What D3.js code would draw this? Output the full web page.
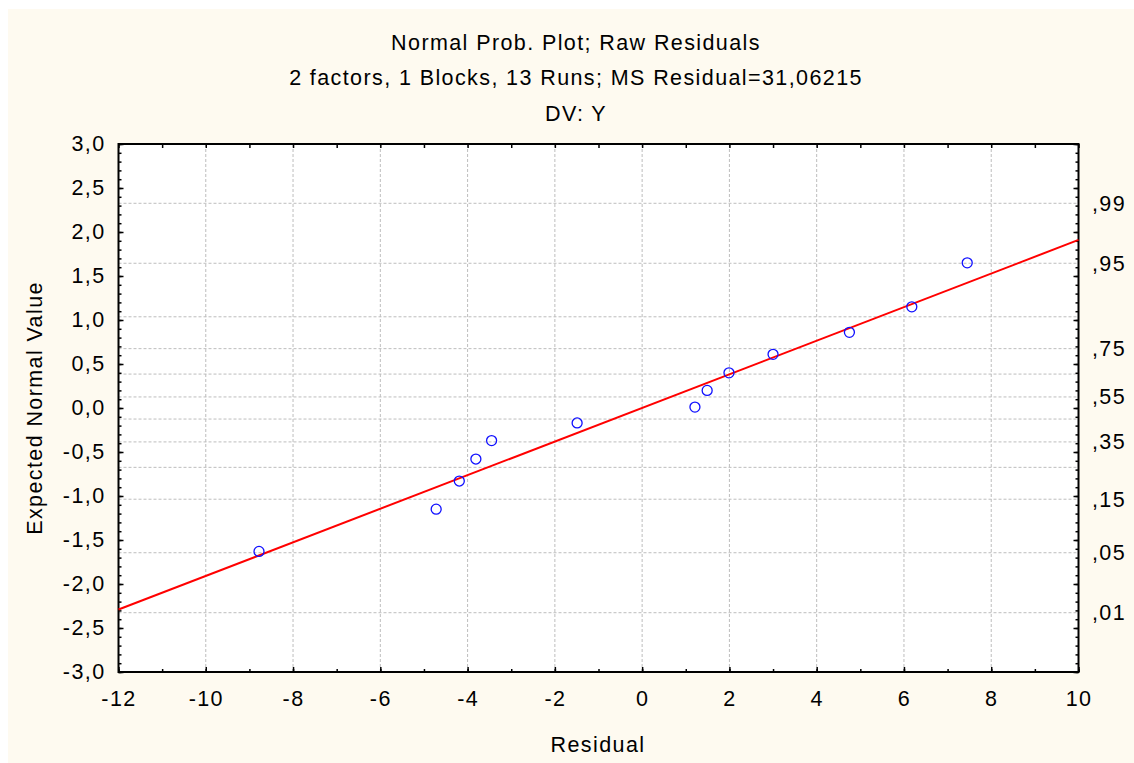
<!DOCTYPE html>
<html>
<head>
  <meta charset="utf-8">
  <title>Normal Prob. Plot; Raw Residuals</title>
  <script src="https://cdn.jsdelivr.net/npm/d3@7"></script>
  <style type="text/css">
    body { margin: 0; background: #fff; }
    svg { display: block; }
    text { font-family: "Liberation Sans", Arial, sans-serif; fill: #000; }
  </style>
</head>
<body>
<div id="chart"></div>
<script type="text/javascript">
  // data
  var residuals = [-8.78, -4.72, -4.19, -3.81, -3.45, -1.49, 1.21, 1.49, 1.99, 3.00, 4.75, 6.18, 7.45];
  var expected  = [-1.63, -1.15, -0.83, -0.58, -0.37, -0.17, 0.01, 0.20, 0.40, 0.61, 0.86, 1.15, 1.65];
  var fitX = [-12, 10];
  var fitY = [-2.29, 1.91];
  var xTicks = [-12, -10, -8, -6, -4, -2, 0, 2, 4, 6, 8, 10];
  var yTicks = [-3, -2.5, -2, -1.5, -1, -0.5, 0, 0.5, 1, 1.5, 2, 2.5, 3];
  var probLabels = [0.01, 0.05, 0.15, 0.35, 0.55, 0.75, 0.95, 0.99];
  var probGrid = [0.01, 0.05, 0.15, 0.25, 0.35, 0.45, 0.55, 0.65, 0.75, 0.85, 0.95, 0.99];
  var titles = ["Normal Prob. Plot; Raw Residuals",
                "2 factors, 1 Blocks, 13 Runs; MS Residual=31,06215",
                "DV: Y"];

  var W = 1134, H = 763;
  var L = 118.5, R = 1078.5, T = 144, B = 672;
  var FS = 21.5, LS = "1.4px";

  var loc = d3.formatLocale({decimal: ",", thousands: ".", grouping: [3], currency: ["", ""], minus: "-"});
  var f1 = loc.format(".1f");

  // inverse normal cdf (Acklam)
  function probit(p) {
    var a = [-39.69683028665376, 220.9460984245205, -275.9285104469687, 138.3577518672690, -30.66479806614716, 2.506628277459239];
    var b = [-54.47609879822406, 161.5858368580409, -155.6989798598866, 66.80131188771972, -13.28068155288572];
    var c = [-0.007784894002430293, -0.3223964580411365, -2.400758277161838, -2.549732539343734, 4.374664141464968, 2.938163982698783];
    var d = [0.007784695709041462, 0.3224671290700398, 2.445134137142996, 3.754408661907416];
    var q, r;
    if (p < 0.02425 || p > 0.97575) {
      q = Math.sqrt(-2 * Math.log(p < 0.5 ? p : 1 - p));
      var v = (((((c[0]*q+c[1])*q+c[2])*q+c[3])*q+c[4])*q+c[5]) / ((((d[0]*q+d[1])*q+d[2])*q+d[3])*q+1);
      return p < 0.5 ? v : -v;
    }
    q = p - 0.5; r = q * q;
    return (((((a[0]*r+a[1])*r+a[2])*r+a[3])*r+a[4])*r+a[5])*q / (((((b[0]*r+b[1])*r+b[2])*r+b[3])*r+b[4])*r+1);
  }

  var x = d3.scaleLinear().domain([-12, 10]).range([L, R]);
  var y = d3.scaleLinear().domain([-3, 3]).range([B, T]);

  var svg = d3.select("#chart").append("svg").attr("width", W).attr("height", H);

  svg.append("rect").attr("x", 8).attr("y", 9).attr("width", W - 8).attr("height", H - 9)
    .attr("fill", "#fefaf0");
  svg.append("rect").attr("x", L).attr("y", T).attr("width", R - L).attr("height", B - T)
    .attr("fill", "#fff");

  // titles
  svg.selectAll(".title").data(titles).enter().append("text")
    .attr("class", "title")
    .attr("x", 576)
    .attr("y", function (d, i) { return [49.5, 84.5, 120.5][i]; })
    .attr("text-anchor", "middle")
    .style("font-size", FS + "px").style("letter-spacing", LS)
    .text(function (d) { return d; });

  // grid
  var grid = svg.append("g").attr("stroke", "#bdbdbd").attr("stroke-dasharray", "3,2").attr("stroke-width", 1);
  grid.selectAll(".vg").data(xTicks.slice(1, -1)).enter().append("line")
    .attr("x1", function (d) { return x(d); }).attr("x2", function (d) { return x(d); })
    .attr("y1", T).attr("y2", B);
  grid.selectAll(".hg").data(probGrid).enter().append("line")
    .attr("x1", L).attr("x2", R)
    .attr("y1", function (d) { return y(probit(d)); }).attr("y2", function (d) { return y(probit(d)); });

  function styleAxis(g) {
    g.select(".domain").remove();
    g.selectAll("line").attr("stroke", "#000").attr("stroke-width", 1.5);
    g.selectAll("text").style("font-size", FS + "px").style("letter-spacing", LS)
      .attr("font-family", null);
  }

  var minorY = d3.range(-30, 31).map(function (i) { return i / 10; });
  var minorX = d3.range(-12, 11);

  // left axis
  svg.append("g").attr("transform", "translate(" + L + ",0)")
    .call(d3.axisLeft(y).tickValues(minorY).tickSize(-3).tickFormat("")).call(styleAxis);
  svg.append("g").attr("transform", "translate(" + L + ",0)")
    .call(d3.axisLeft(y).tickValues(yTicks).tickSize(-5).tickPadding(13).tickFormat(f1)).call(styleAxis);

  // right axis
  svg.append("g").attr("transform", "translate(" + R + ",0)")
    .call(d3.axisRight(y).tickValues(minorY).tickSize(-3).tickFormat("")).call(styleAxis);
  svg.append("g").attr("transform", "translate(" + R + ",0)")
    .call(d3.axisRight(y).tickValues(yTicks).tickSize(-5).tickFormat("")).call(styleAxis);
  svg.append("g").attr("transform", "translate(" + R + ",0)")
    .call(d3.axisRight(y).tickValues(probLabels.map(probit)).tickSize(0).tickPadding(13.5)
      .tickFormat(function (z, i) { return "," + d3.format("02d")(Math.round(probLabels[i] * 100)); }))
    .call(styleAxis);

  // bottom / top axes
  svg.append("g").attr("transform", "translate(0," + B + ")")
    .call(d3.axisBottom(x).tickValues(minorX).tickSize(-3).tickFormat("")).call(styleAxis);
  svg.append("g").attr("transform", "translate(0," + B + ")")
    .call(d3.axisBottom(x).tickValues(xTicks).tickSize(-5).tickPadding(19).tickFormat(loc.format("d"))).call(styleAxis);
  svg.append("g").attr("transform", "translate(0," + T + ")")
    .call(d3.axisTop(x).tickValues(minorX).tickSize(-4).tickFormat("")).call(styleAxis);

  // frame
  svg.append("rect").attr("x", L).attr("y", T).attr("width", R - L).attr("height", B - T)
    .attr("fill", "none").attr("stroke", "#000").attr("stroke-width", 2);

  // fitted line
  svg.append("line")
    .attr("x1", x(fitX[0])).attr("y1", y(fitY[0]))
    .attr("x2", x(fitX[1])).attr("y2", y(fitY[1]))
    .attr("stroke", "#ff0000").attr("stroke-width", 2);

  // points
  svg.selectAll(".pt").data(residuals).enter().append("circle")
    .attr("class", "pt")
    .attr("cx", function (d) { return x(d); })
    .attr("cy", function (d, i) { return y(expected[i]); })
    .attr("r", 5)
    .attr("fill", "none").attr("stroke", "#1010ff").attr("stroke-width", 1.3);

  // axis titles
  svg.append("text").attr("x", 598).attr("y", 751.5).attr("text-anchor", "middle")
    .style("font-size", FS + "px").style("letter-spacing", LS).text("Residual");
  svg.append("text").attr("transform", "translate(42,408) rotate(-90)").attr("text-anchor", "middle")
    .style("font-size", FS + "px").style("letter-spacing", LS).text("Expected Normal Value");
</script>
</body>
</html>
